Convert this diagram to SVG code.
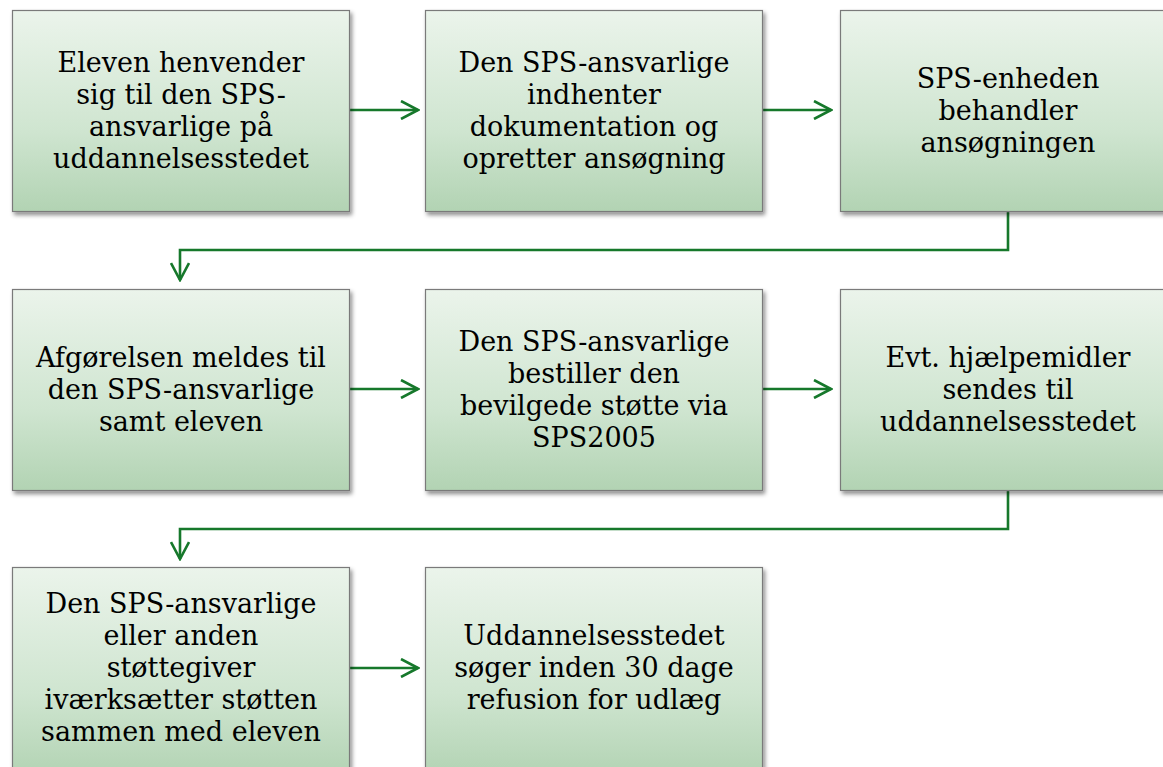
<svg xmlns="http://www.w3.org/2000/svg" width="1163" height="767" viewBox="0 0 1163 767">
<style>
.box{fill:url(#g);stroke:#7a7a7a;stroke-width:1.2;filter:url(#sh)}
.t{font-family:"DejaVu Serif","Liberation Serif",serif;font-size:27px;fill:#000;text-anchor:middle}
.c{fill:none;stroke:#16782b;stroke-width:2.6}
</style>
<defs>
<linearGradient id="g" x1="0" y1="0" x2="0" y2="1">
<stop offset="0" stop-color="#ebf4eb"/>
<stop offset="0.6" stop-color="#cfe5d0"/>
<stop offset="1" stop-color="#b2d3b3"/>
</linearGradient>
<filter id="sh" x="-10%" y="-10%" width="125%" height="125%">
<feDropShadow dx="2" dy="3" stdDeviation="2" flood-color="#000" flood-opacity="0.45"/>
</filter>
<marker id="ah" viewBox="0 0 20 20" refX="18" refY="10" markerWidth="20" markerHeight="20" markerUnits="userSpaceOnUse" orient="auto">
<path d="M1,1 L18,10 L1,19" fill="none" stroke="#16782b" stroke-width="2.6"/>
</marker>
</defs>
<g id="connectors">
<line class="c" x1="349" y1="110" x2="418" y2="110" marker-end="url(#ah)"/>
<line class="c" x1="762" y1="110" x2="831" y2="110" marker-end="url(#ah)"/>
<path class="c" d="M1008,211 V250 H180 V280" marker-end="url(#ah)"/>
<line class="c" x1="349" y1="389" x2="418" y2="389" marker-end="url(#ah)"/>
<line class="c" x1="762" y1="389" x2="831" y2="389" marker-end="url(#ah)"/>
<path class="c" d="M1008,490 V529 H180 V559" marker-end="url(#ah)"/>
<line class="c" x1="349" y1="668" x2="418" y2="668" marker-end="url(#ah)"/>
</g>
<g id="n1">
<rect class="box" x="12.5" y="10.5" width="337" height="201"/>
<text class="t"><tspan x="181" y="71.5">Eleven henvender</tspan><tspan x="181" y="103.5">sig til den SPS-</tspan><tspan x="181" y="135.5">ansvarlige på</tspan><tspan x="181" y="167.5">uddannelsesstedet</tspan></text>
</g>
<g id="n2">
<rect class="box" x="425.5" y="10.5" width="337" height="201"/>
<text class="t"><tspan x="594" y="71.5">Den SPS-ansvarlige</tspan><tspan x="594" y="103.5">indhenter</tspan><tspan x="594" y="135.5">dokumentation og</tspan><tspan x="594" y="167.5">opretter ansøgning</tspan></text>
</g>
<g id="n3">
<rect class="box" x="840.5" y="10.5" width="337" height="201"/>
<text class="t"><tspan x="1008" y="87.5">SPS-enheden</tspan><tspan x="1008" y="119.5">behandler</tspan><tspan x="1008" y="151.5">ansøgningen</tspan></text>
</g>
<g id="n4">
<rect class="box" x="12.5" y="289.5" width="337" height="201"/>
<text class="t"><tspan x="181" y="366.5">Afgørelsen meldes til</tspan><tspan x="181" y="398.5">den SPS-ansvarlige</tspan><tspan x="181" y="430.5">samt eleven</tspan></text>
</g>
<g id="n5">
<rect class="box" x="425.5" y="289.5" width="337" height="201"/>
<text class="t"><tspan x="594" y="350.5">Den SPS-ansvarlige</tspan><tspan x="594" y="382.5">bestiller den</tspan><tspan x="594" y="414.5">bevilgede støtte via</tspan><tspan x="594" y="446.5">SPS2005</tspan></text>
</g>
<g id="n6">
<rect class="box" x="840.5" y="289.5" width="337" height="201"/>
<text class="t"><tspan x="1008" y="366.5">Evt. hjælpemidler</tspan><tspan x="1008" y="398.5">sendes til</tspan><tspan x="1008" y="430.5">uddannelsesstedet</tspan></text>
</g>
<g id="n7">
<rect class="box" x="12.5" y="567.5" width="337" height="210"/>
<text class="t"><tspan x="181" y="612.5">Den SPS-ansvarlige</tspan><tspan x="181" y="644.5">eller anden</tspan><tspan x="181" y="676.5">støttegiver</tspan><tspan x="181" y="708.5">iværksætter støtten</tspan><tspan x="181" y="740.5">sammen med eleven</tspan></text>
</g>
<g id="n8">
<rect class="box" x="425.5" y="567.5" width="337" height="210"/>
<text class="t"><tspan x="594" y="644.5">Uddannelsesstedet</tspan><tspan x="594" y="676.5">søger inden 30 dage</tspan><tspan x="594" y="708.5">refusion for udlæg</tspan></text>
</g>
</svg>
